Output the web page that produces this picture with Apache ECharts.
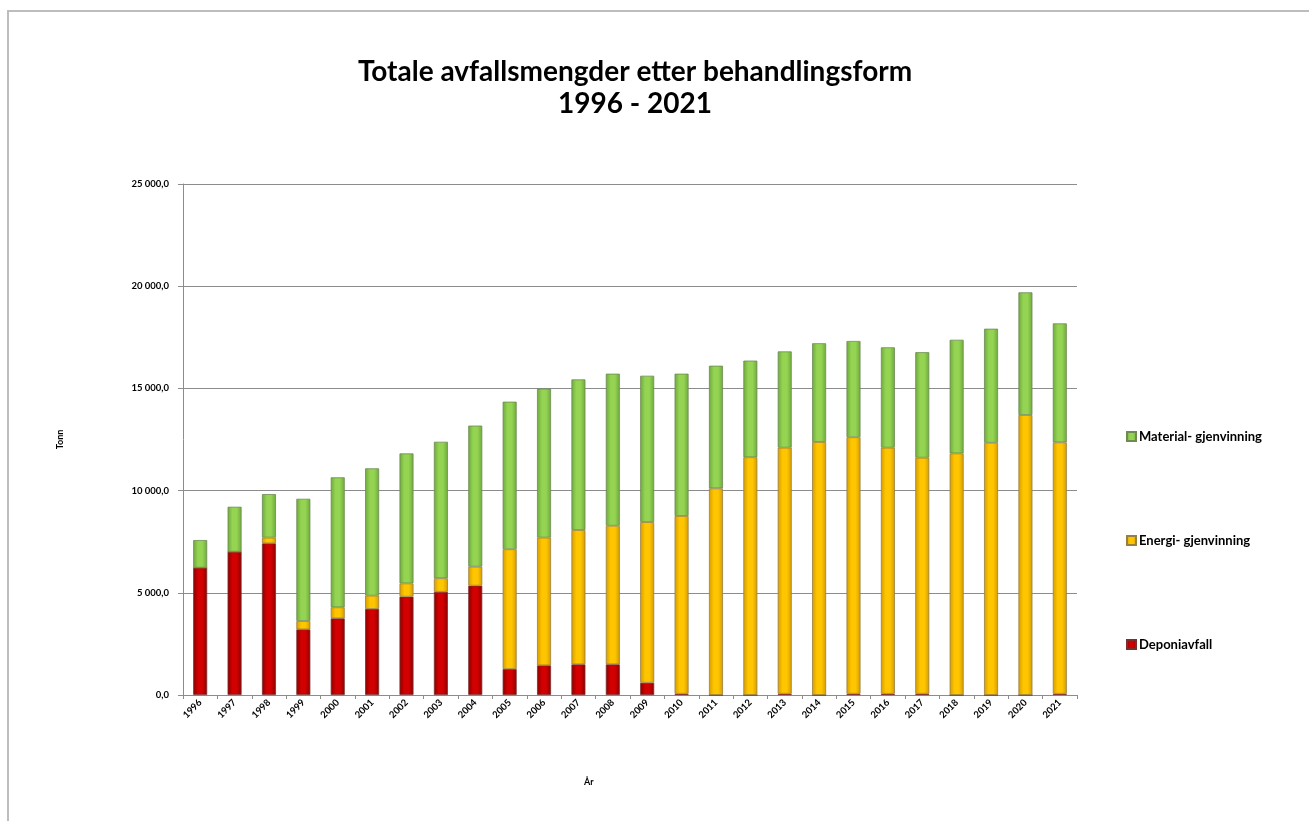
<!DOCTYPE html>
<html>
<head>
<meta charset="utf-8">
<script src="https://cdn.jsdelivr.net/npm/echarts@6/dist/echarts.min.js"></script>
<style>
html,body{margin:0;padding:0;background:#fff;}
#chart{width:1309px;height:821px;}
</style>
</head>
<body>
<div id="chart"></div>
<script>
const years = ['1996','1997','1998','1999','2000','2001','2002','2003','2004','2005','2006','2007','2008','2009','2010','2011','2012','2013','2014','2015','2016','2017','2018','2019','2020','2021'];
const deponiavfall = [6230,7010,7420,3210,3750,4210,4810,5050,5350,1270,1450,1500,1500,600,60,0,0,60,0,60,60,60,0,0,0,60];
const energi = [0,0,280,410,540,650,650,660,930,5860,6250,6570,6780,7860,8700,10110,11630,12040,12380,12550,12040,11550,11820,12340,13700,12300];
const material = [1350,2200,2130,5980,6360,6230,6360,6680,6900,7220,7290,7370,7440,7160,6960,6000,4730,4710,4830,4710,4910,5160,5560,5580,6000,5820];
const seriesNames = ['Deponiavfall','Energi- gjenvinning','Material- gjenvinning'];
const yTicks = [0,5000,10000,15000,20000,25000];

function grad(edge, mid){
  return new echarts.graphic.LinearGradient(0,0,1,0,[
    {offset:0,color:edge},{offset:0.35,color:mid},{offset:0.65,color:mid},{offset:1,color:edge}
  ]);
}
const chart = echarts.init(document.getElementById('chart'));
const font = 'Lato, "Open Sans", sans-serif';
function fmt(v){
  const s = Math.round(v).toString().replace(/\B(?=(\d{3})+(?!\d))/g,' ');
  return s + ',0';
}
const common = {type:'bar',stack:'tot',barWidth:14};
chart.setOption({
  animation:false,
  backgroundColor:'#fff',
  graphic:[
    {type:'rect',shape:{x:8,y:11,width:1340,height:850},style:{fill:'none',stroke:'#bdbdbd',lineWidth:2},silent:true},
    {type:'text',left:584,top:778,style:{text:'År',fontFamily:font,fontSize:9,fontWeight:'bold',fill:'#000'},silent:true}
  ],
  title:{
    text:'Totale avfallsmengder etter behandlingsform\n1996 - 2021',
    left:630,top:51,textAlign:'center',
    textStyle:{fontFamily:font,fontSize:28,fontWeight:'bold',color:'#000',lineHeight:32}
  },
  legend:{
    orient:'vertical',left:1121,top:425,itemGap:91,itemWidth:9,itemHeight:9,
    icon:'rect',
    data:['Material- gjenvinning','Energi- gjenvinning','Deponiavfall'],
    textStyle:{fontFamily:font,fontSize:13,fontWeight:'bold',color:'#000',padding:[0,0,0,-2]}
  },
  grid:{left:183,right:232,top:184,bottom:126,containLabel:false},
  xAxis:{
    type:'category',data:years,
    axisLine:{lineStyle:{color:'#8c8c8c'}},
    axisTick:{show:true,length:4,lineStyle:{color:'#8c8c8c'}},
    axisLabel:{rotate:45,fontFamily:font,fontSize:9.5,fontWeight:'bold',color:'#000',margin:6}
  },
  yAxis:{
    type:'value',min:0,max:25000,interval:5000,name:'Tonn',nameLocation:'middle',nameGap:118,
    nameTextStyle:{fontFamily:font,fontSize:9,fontWeight:'bold',color:'#000'},
    axisLine:{show:true,lineStyle:{color:'#8c8c8c'}},
    axisTick:{show:true,inside:false,length:5,lineStyle:{color:'#8c8c8c'}},
    splitLine:{lineStyle:{color:'#8c8c8c'}},
    axisLabel:{fontFamily:font,fontSize:9.5,fontWeight:'bold',color:'#000',margin:14,formatter:fmt}
  },
  series:[
    Object.assign({},common,{name:seriesNames[0],data:deponiavfall,
      itemStyle:{color:grad('#8a0000','#d20000'),borderColor:'#7a3030',borderWidth:0.8}}),
    Object.assign({},common,{name:seriesNames[1],data:energi,
      itemStyle:{color:grad('#d49b00','#ffc600'),borderColor:'#9a8040',borderWidth:0.8}}),
    Object.assign({},common,{name:seriesNames[2],data:material,
      itemStyle:{color:grad('#6ea83c','#94d452'),borderColor:'#6f8a55',borderWidth:0.8}})
  ]
});
</script>
</body>
</html>
